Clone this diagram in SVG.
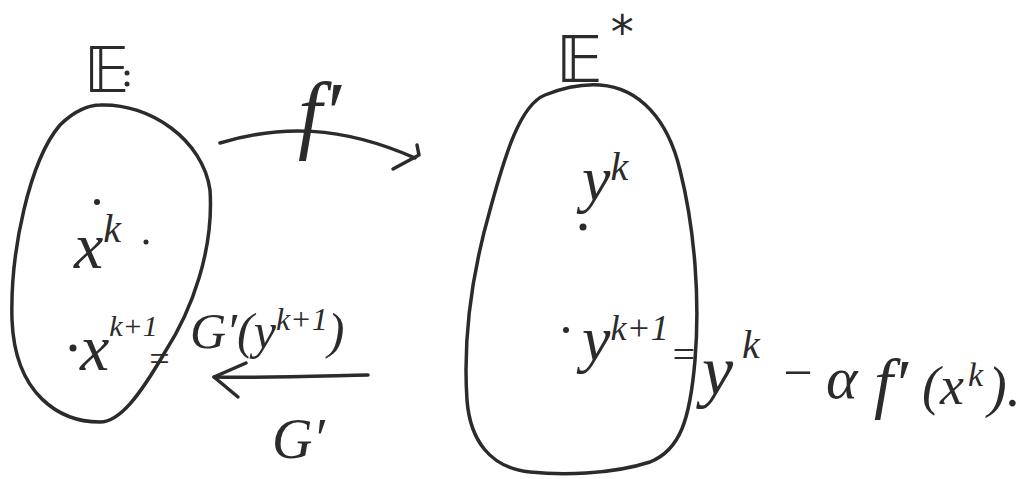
<svg xmlns="http://www.w3.org/2000/svg" width="1036" height="479" viewBox="0 0 1036 479">
<style>
.ln{fill:none;stroke:#2b2b2b;stroke-width:3.5;stroke-linecap:round;stroke-linejoin:round}
.t{font-family:"Liberation Serif",serif;font-style:italic;fill:#2b2b2b}
.bb{font-family:"DejaVu Sans","Noto Sans",sans-serif;fill:#2b2b2b}
.dot{fill:#2b2b2b}
</style>
<rect width="1036" height="479" fill="#ffffff"/>
<g id="space-E">
<path class="ln" d="M100,105 C150,103 203,140 210,190 C214,250 192,310 165,352 C140,395 120,422 100,422 C60,422 15,395 12,320 C10,250 30,160 60,125 C75,110 90,105 100,105 Z"/>
<text class="bb" x="84" y="92" font-size="62">𝔼</text>
<circle class="dot" cx="127" cy="73" r="2.5"/>
<circle class="dot" cx="127" cy="84" r="2.5"/>
<circle class="dot" cx="97" cy="202" r="3"/>
<text class="t" x="74" y="268" font-size="66">x<tspan font-size="40" dy="-26">k</tspan></text>
<circle class="dot" cx="146" cy="242" r="2.5"/>
<circle class="dot" cx="73" cy="348" r="3.5"/>
<text class="t" x="80" y="370" font-size="66">x<tspan font-size="30" dy="-34">k+1</tspan></text>
<text class="t" x="147" y="371" font-size="36">=</text>
</g>
<g id="space-Estar">
<path class="ln" d="M600,85 C640,88 668,120 680,170 C695,230 700,300 695,360 C690,420 680,450 650,462 C610,475 560,475 530,472 C490,468 470,440 467,400 C463,340 470,280 490,210 C505,155 520,105 545,95 C565,87 585,84 600,85 Z"/>
<text class="bb" x="556" y="82" font-size="64">𝔼<tspan font-size="46" dx="8" dy="-34">*</tspan></text>
<circle class="dot" cx="583" cy="227" r="3.5"/>
<text class="t" x="582" y="200" font-size="64">y<tspan font-size="40" dy="-20">k</tspan></text>
<circle class="dot" cx="566" cy="330" r="3"/>
<text class="t" x="582" y="360" font-size="64">y<tspan font-size="36" dy="-20">k+1</tspan></text>
<text class="t" x="670" y="368" font-size="40">=</text>
</g>
<g id="labels">
<text class="t" x="190" y="348" font-size="50">G′(y<tspan font-size="32" dy="-18">k+1</tspan><tspan dy="18">)</tspan></text>
<text class="t" x="272" y="458" font-size="56">G′</text>
<text class="t" x="298" y="142" font-size="86">f′</text>
<text class="t" font-size="60"><tspan x="702" y="394" font-size="70">y</tspan><tspan x="742" y="358" font-size="40">k</tspan><tspan x="780" y="390" font-size="52">−</tspan><tspan x="826" y="398">α</tspan><tspan x="874" y="406" font-size="68">f′</tspan><tspan x="922" y="404" font-size="54">(x</tspan><tspan x="968" y="386" font-size="34">k</tspan><tspan x="988" y="406" font-size="56">).</tspan></text>
</g>
<g id="connectors">
<path class="ln" d="M220,143 C280,125 340,125 415,158"/>
<path class="ln" d="M417,145 L419,155 L393,169"/>
<path class="ln" d="M368,375 C320,376 260,378 214,377"/>
<path class="ln" d="M246,363 L214,377 L238,397"/>
</g>
</svg>
